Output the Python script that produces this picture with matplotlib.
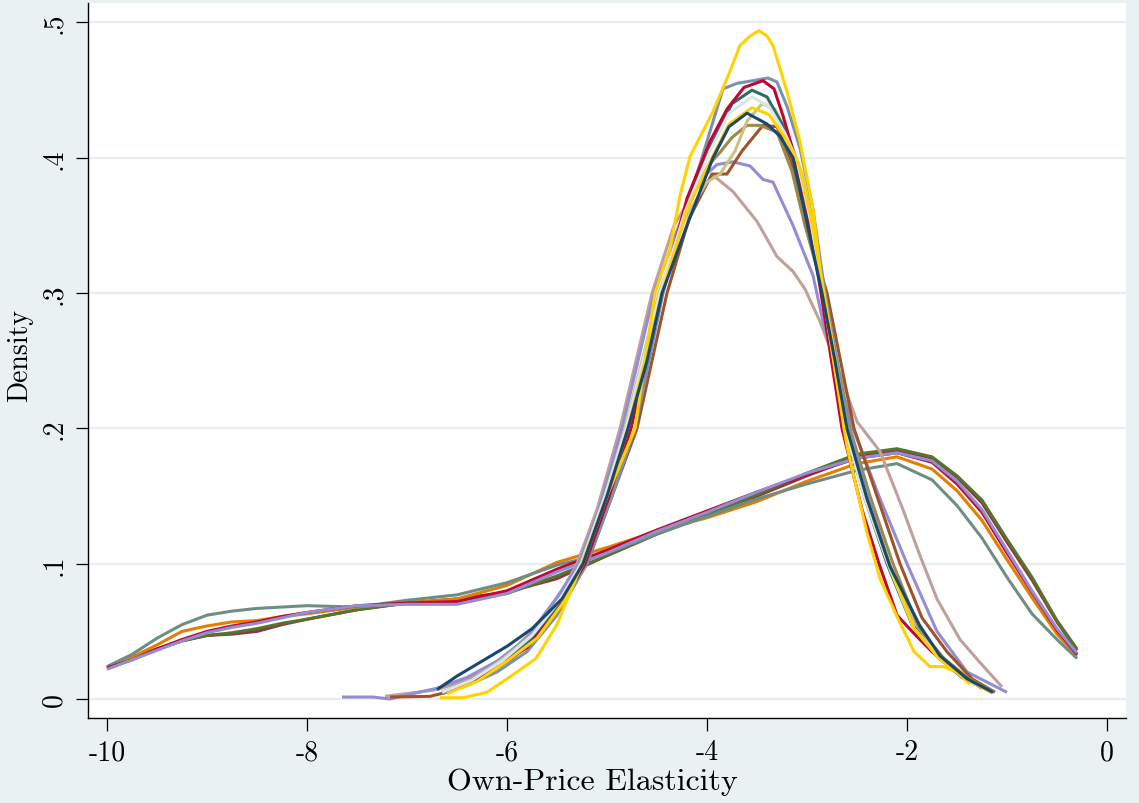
import matplotlib as mpl
mpl.use('Agg')
import matplotlib.pyplot as plt

# kernel density curves of own-price elasticities, two sets of estimates

# wide set: common grid of elasticities
wide_x = [-10.0, -9.75, -9.5, -9.25, -9.0, -8.75, -8.5, -8.25, -8.0, -7.5, -7.0,
          -6.5, -6.0, -5.5, -5.0, -4.5, -4.0, -3.5, -3.0, -2.5, -2.1, -1.75,
          -1.5, -1.25, -1.0, -0.75, -0.5, -0.3]
wide_maroon = [0.023, 0.030, 0.037, 0.043, 0.047, 0.048, 0.050, 0.055, 0.059, 0.066, 0.071,
               0.074, 0.079, 0.089, 0.106, 0.122, 0.136, 0.150, 0.165, 0.179, 0.184, 0.178,
               0.164, 0.145, 0.116, 0.088, 0.057, 0.036]
wide_green = [0.023, 0.030, 0.037, 0.043, 0.047, 0.049, 0.052, 0.056, 0.059, 0.066, 0.071,
              0.073, 0.078, 0.091, 0.106, 0.122, 0.136, 0.151, 0.167, 0.181, 0.185, 0.179,
              0.165, 0.147, 0.118, 0.090, 0.058, 0.037]
wide_orange = [0.023, 0.031, 0.040, 0.050, 0.054, 0.057, 0.058, 0.061, 0.063, 0.068, 0.071,
               0.074, 0.084, 0.101, 0.112, 0.124, 0.134, 0.146, 0.161, 0.174, 0.179, 0.170,
               0.154, 0.132, 0.103, 0.075, 0.048, 0.032]
wide_teal = [0.024, 0.033, 0.045, 0.055, 0.062, 0.065, 0.067, 0.068, 0.069, 0.068, 0.073,
             0.077, 0.086, 0.099, 0.108, 0.122, 0.135, 0.148, 0.159, 0.169, 0.174, 0.162,
             0.143, 0.119, 0.090, 0.063, 0.044, 0.030]
wide_red = [0.023, 0.029, 0.037, 0.044, 0.050, 0.054, 0.057, 0.061, 0.064, 0.069, 0.071,
            0.072, 0.080, 0.096, 0.110, 0.125, 0.139, 0.153, 0.166, 0.178, 0.182, 0.175,
            0.159, 0.138, 0.108, 0.079, 0.051, 0.033]
wide_lavender = [0.022, 0.029, 0.036, 0.043, 0.049, 0.053, 0.056, 0.060, 0.064, 0.069, 0.070,
                 0.070, 0.078, 0.094, 0.108, 0.124, 0.138, 0.153, 0.167, 0.178, 0.182, 0.176,
                 0.161, 0.140, 0.110, 0.080, 0.052, 0.034]

# narrow set: each curve has its own support
erose_x = [-7.22, -6.90, -6.70, -6.40, -6.10, -5.75, -5.45, -5.30, -5.10, -4.87, -4.55, -4.33,
           -4.10, -3.92, -3.74, -3.50, -3.30, -3.14, -3.02, -2.87, -2.70, -2.50, -2.27, -2.04,
           -1.87, -1.70, -1.47, -1.27, -1.05]
erose_y = [0.002, 0.005, 0.007, 0.014, 0.025, 0.050, 0.080, 0.100, 0.140, 0.200, 0.300, 0.350,
           0.378, 0.386, 0.375, 0.353, 0.327, 0.316, 0.303, 0.279, 0.246, 0.205, 0.183, 0.140,
           0.106, 0.074, 0.044, 0.027, 0.009]
lav_x = [-7.65, -7.34, -7.17, -7.00, -6.70, -6.40, -6.10, -5.80, -5.50, -5.28, -5.08, -4.85,
         -4.53, -4.28, -4.05, -3.90, -3.74, -3.57, -3.44, -3.34, -3.14, -2.94, -2.84, -2.54,
         -2.27, -2.00, -1.70, -1.40, -1.00]
lav_y = [0.0015, 0.0015, 0.000, 0.003, 0.008, 0.016, 0.028, 0.045, 0.075, 0.100, 0.140, 0.200,
         0.300, 0.350, 0.385, 0.395, 0.397, 0.394, 0.384, 0.382, 0.350, 0.313, 0.279, 0.200,
         0.148, 0.100, 0.050, 0.020, 0.005]
sienna_x = [-7.17, -6.77, -6.55, -6.25, -5.95, -5.65, -5.42, -5.20, -4.95, -4.70, -4.40, -4.18,
            -3.95, -3.80, -3.65, -3.44, -3.30, -3.16, -3.02, -2.90, -2.80, -2.53, -2.30, -2.07,
            -1.85, -1.60, -1.35, -1.12]
sienna_y = [0.0015, 0.002, 0.006, 0.016, 0.030, 0.050, 0.075, 0.100, 0.150, 0.200, 0.300, 0.355,
            0.388, 0.388, 0.405, 0.424, 0.423, 0.398, 0.360, 0.325, 0.300, 0.200, 0.150, 0.100,
            0.060, 0.035, 0.015, 0.005]
brown_x = [-6.60, -6.30, -6.00, -5.70, -5.45, -5.24, -5.00, -4.80, -4.46, -4.20, -3.98, -3.87,
           -3.75, -3.60, -3.47, -3.30, -3.15, -3.02, -2.83, -2.70, -2.57, -2.37, -2.14, -1.88,
           -1.63, -1.38, -1.13]
brown_y = [0.005, 0.015, 0.030, 0.048, 0.072, 0.100, 0.150, 0.200, 0.300, 0.365, 0.395, 0.404,
           0.415, 0.424, 0.424, 0.419, 0.390, 0.350, 0.300, 0.250, 0.200, 0.150, 0.100, 0.052,
           0.030, 0.015, 0.005]
khaki_x = [-6.60, -6.30, -6.00, -5.70, -5.45, -5.25, -5.02, -4.82, -4.48, -4.22, -4.00, -3.87,
           -3.72, -3.60, -3.45, -3.32, -3.18, -3.05, -2.92, -2.84, -2.60, -2.40, -2.17, -1.91,
           -1.66, -1.40, -1.15]
khaki_y = [0.005, 0.016, 0.032, 0.050, 0.074, 0.100, 0.150, 0.200, 0.300, 0.355, 0.382, 0.388,
           0.405, 0.427, 0.440, 0.436, 0.415, 0.388, 0.345, 0.300, 0.200, 0.148, 0.100, 0.052,
           0.030, 0.015, 0.005]
emid_x = [-6.65, -6.40, -6.10, -5.80, -5.50, -5.20, -4.95, -4.72, -4.44, -4.22, -4.05, -3.84,
          -3.70, -3.54, -3.39, -3.30, -3.20, -3.07, -2.94, -2.82, -2.58, -2.38, -2.18, -1.93,
          -1.68, -1.42, -1.15]
emid_y = [0.004, 0.010, 0.020, 0.035, 0.062, 0.100, 0.150, 0.200, 0.300, 0.360, 0.400, 0.451,
          0.455, 0.457, 0.459, 0.456, 0.438, 0.407, 0.362, 0.300, 0.200, 0.148, 0.100, 0.052,
          0.030, 0.015, 0.005]
emerald_x = [-6.60, -6.30, -6.00, -5.70, -5.45, -5.22, -4.98, -4.77, -4.45, -4.20, -3.95, -3.75,
             -3.55, -3.40, -3.25, -3.12, -2.98, -2.85, -2.62, -2.42, -2.20, -1.95, -1.70, -1.45,
             -1.15]
emerald_y = [0.005, 0.014, 0.030, 0.048, 0.072, 0.100, 0.150, 0.200, 0.300, 0.365, 0.410, 0.440,
             0.450, 0.445, 0.425, 0.398, 0.350, 0.300, 0.200, 0.148, 0.100, 0.055, 0.032, 0.016,
             0.005]
cran_x = [-6.65, -6.40, -6.10, -5.80, -5.50, -5.22, -4.98, -4.76, -4.45, -4.20, -3.97, -3.80,
          -3.63, -3.44, -3.33, -3.24, -3.10, -2.97, -2.86, -2.65, -2.45, -2.28, -2.10, -1.95,
          -1.75, -1.50, -1.25]
cran_y = [0.005, 0.012, 0.024, 0.038, 0.065, 0.100, 0.150, 0.200, 0.300, 0.370, 0.412, 0.436,
          0.452, 0.457, 0.451, 0.431, 0.395, 0.350, 0.300, 0.200, 0.140, 0.100, 0.062, 0.050,
          0.035, 0.020, 0.008]
bgray_x = [-6.65, -6.35, -6.05, -5.75, -5.48, -5.26, -5.02, -4.81, -4.47, -4.22, -3.97, -3.78,
           -3.55, -3.38, -3.22, -3.10, -2.96, -2.84, -2.62, -2.42, -2.19, -1.93, -1.66, -1.42,
           -1.15]
bgray_y = [0.005, 0.014, 0.028, 0.047, 0.072, 0.100, 0.150, 0.200, 0.300, 0.360, 0.405, 0.433,
           0.445, 0.438, 0.418, 0.398, 0.352, 0.300, 0.200, 0.148, 0.100, 0.052, 0.030, 0.015,
           0.005]
gold2_x = [-6.60, -6.30, -6.00, -5.70, -5.45, -5.24, -5.00, -4.79, -4.45, -4.20, -3.95, -3.78,
           -3.55, -3.38, -3.22, -3.08, -2.95, -2.83, -2.60, -2.40, -2.18, -1.93, -1.68, -1.42,
           -1.16]
gold2_y = [0.004, 0.013, 0.028, 0.045, 0.070, 0.100, 0.150, 0.200, 0.300, 0.362, 0.400, 0.425,
           0.437, 0.432, 0.415, 0.395, 0.352, 0.300, 0.200, 0.148, 0.100, 0.052, 0.030, 0.015,
           0.005]
gold_x = [-6.67, -6.44, -6.20, -5.90, -5.71, -5.50, -5.25, -5.00, -4.72, -4.52, -4.37, -4.27,
          -4.17, -3.94, -3.77, -3.67, -3.57, -3.48, -3.40, -3.34, -3.20, -3.07, -2.94, -2.84,
          -2.63, -2.59, -2.40, -2.27, -2.10, -1.93, -1.77, -1.64, -1.50, -1.37]
gold_y = [0.001, 0.001, 0.005, 0.020, 0.030, 0.055, 0.100, 0.150, 0.200, 0.300, 0.333, 0.372,
          0.401, 0.434, 0.464, 0.483, 0.490, 0.494, 0.490, 0.483, 0.449, 0.412, 0.362, 0.300,
          0.200, 0.183, 0.123, 0.089, 0.061, 0.035, 0.024, 0.024, 0.020, 0.011]
navy_x = [-6.70, -6.50, -6.25, -6.00, -5.75, -5.45, -5.24, -5.00, -4.79, -4.60, -4.45, -4.20,
          -3.94, -3.78, -3.60, -3.40, -3.27, -3.14, -3.00, -2.85, -2.72, -2.60, -2.40, -2.17,
          -1.87, -1.67, -1.40, -1.14]
navy_y = [0.007, 0.017, 0.028, 0.039, 0.052, 0.074, 0.100, 0.150, 0.200, 0.250, 0.300, 0.350,
          0.400, 0.423, 0.433, 0.425, 0.416, 0.400, 0.352, 0.300, 0.250, 0.200, 0.148, 0.098,
          0.054, 0.032, 0.015, 0.005]

x_ticks = [-10, -8, -6, -4, -2, 0]
x_tick_labels = ['-10', '-8', '-6', '-4', '-2', '0']
y_ticks = [0, 0.1, 0.2, 0.3, 0.4, 0.5]
y_tick_labels = ['0', '.1', '.2', '.3', '.4', '.5']

BG = '#eaf1f3'
GRID = '#e6eef1'

plt.rcParams['font.family'] = ['cmr10', 'DejaVu Serif']

fig = plt.figure(figsize=(11.39, 8.04), dpi=100, facecolor=BG)
ax = fig.add_axes([88 / 1139, 85 / 804, 1038 / 1139, 715 / 804])
ax.set_facecolor('white')

wide = [
    (wide_maroon, '#90353b'),
    (wide_green, '#55752f'),
    (wide_orange, '#e37e00'),
    (wide_teal, '#6e8e84'),
    (wide_red, '#c10534'),
    (wide_lavender, '#938dd2'),
]
for ys, col in wide:
    ax.plot(wide_x, ys, color=col, lw=2.2, solid_capstyle='butt',
            solid_joinstyle='round', zorder=3)

narrow = [
    (erose_x, erose_y, '#bfa19c'),
    (lav_x, lav_y, '#938dd2'),
    (sienna_x, sienna_y, '#a0522d'),
    (brown_x, brown_y, '#9c8847'),
    (khaki_x, khaki_y, '#cac27e'),
    (emid_x, emid_y, '#7b92a8'),
    (emerald_x, emerald_y, '#2d6d66'),
    (cran_x, cran_y, '#c10534'),
    (bgray_x, bgray_y, '#d9e6eb'),
    (gold2_x, gold2_y, '#ffd200'),
    (gold_x, gold_y, '#ffd200'),
    (navy_x, navy_y, '#1a476f'),
]
for xs, ys, col in narrow:
    ax.plot(xs, ys, color=col, lw=2.2, solid_capstyle='butt',
            solid_joinstyle='round', zorder=4)

ax.set_xlim(-10.19, 0.19)
ax.set_ylim(-0.014, 0.5144)

ax.set_xticks(x_ticks)
ax.set_xticklabels(x_tick_labels, fontsize=20)
ax.set_yticks(y_ticks)
ax.set_yticklabels(y_tick_labels, fontsize=20, rotation=90, va='center')
ax.tick_params(direction='out', length=9, width=0.9, color='black', pad=6)

ax.grid(axis='y', color=GRID, lw=1.6, zorder=0)
ax.set_axisbelow(True)
for side in ['top', 'right']:
    ax.spines[side].set_visible(False)
for side in ['left', 'bottom']:
    ax.spines[side].set_linewidth(1.0)
    ax.spines[side].set_color('black')

fig.text(592 / 1139, 1 - 782 / 804, 'Own-Price Elasticity', fontsize=23,
         ha='center', va='center')
fig.text(20 / 1139, 1 - 355 / 804, 'Density', fontsize=20, rotation=90,
         ha='center', va='center')

plt.savefig('out.png', dpi=100, facecolor=BG)
